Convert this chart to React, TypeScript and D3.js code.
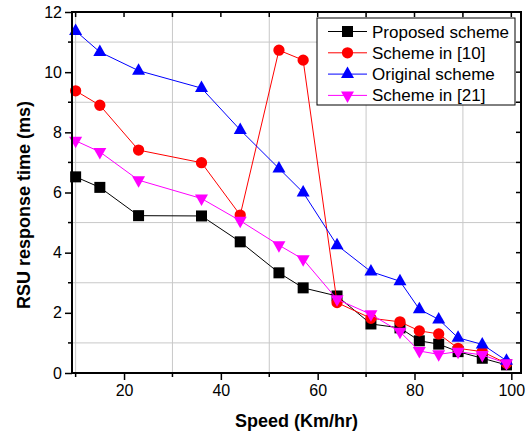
import React, { useEffect, useRef } from 'react';
import * as d3 from 'd3';

// speeds (Km/hr)
const speeds = [10, 15, 23, 36, 44, 52, 57, 64, 71, 77, 81, 85, 89, 94, 99];

// response time (ms) per scheme
const proposed = [6.52, 6.17, 5.23, 5.22, 4.36, 3.33, 2.83, 2.56, 1.63, 1.5, 1.07, 0.96, 0.71, 0.49, 0.27];
const scheme10 = [9.38, 8.9, 7.41, 6.99, 5.25, 10.73, 10.4, 2.34, 1.82, 1.7, 1.4, 1.3, 0.82, 0.71, 0.32];
const original = [11.37, 10.67, 10.05, 9.47, 8.08, 6.8, 6.0, 4.25, 3.37, 3.05, 2.12, 1.78, 1.17, 0.95, 0.41];
const scheme21 = [7.72, 7.35, 6.41, 5.8, 5.06, 4.25, 3.78, 2.45, 1.95, 1.37, 0.73, 0.62, 0.71, 0.6, 0.32];

const seriesNames = ['Proposed scheme', 'Scheme in [10]', 'Original scheme', 'Scheme in [21]'];
const seriesColors = ['#000000', '#ff0000', '#0000ff', '#ff00ff'];
const seriesShapes = ['square', 'circle', 'up', 'down'];

const xTicks = [20, 40, 60, 80, 100];
const xMinor = [10, 30, 50, 70, 90];
const yTicks = [0, 2, 4, 6, 8, 10, 12];
const yMinor = [1, 3, 5, 7, 9, 11];

const FONT = 'Arial, "Liberation Sans", sans-serif';

const App = () => {
  const svgRef = useRef<SVGSVGElement>(null);

  useEffect(() => {
    const W = 530;
    const H = 434;
    const margin = { top: 12, right: 9, bottom: 61, left: 72 };
    const width = W - margin.left - margin.right;
    const height = H - margin.top - margin.bottom;

    const root = d3.select(svgRef.current);
    root.selectAll('*').remove();
    root.attr('width', W).attr('height', H);

    const svg = root.append('g').attr('transform', `translate(${margin.left}, ${margin.top})`);

    const x = d3.scaleLinear().domain([9.25, 102]).range([0, width]);
    const y = d3.scaleLinear().domain([0, 12]).range([height, 0]);

    // grid (Origin draws it on the minor ticks)
    svg
      .selectAll('.vgrid')
      .data(xMinor)
      .enter()
      .append('line')
      .attr('x1', d => x(d))
      .attr('x2', d => x(d))
      .attr('y1', 0)
      .attr('y2', height)
      .attr('stroke', '#c8c8c8')
      .attr('stroke-width', 1);

    svg
      .selectAll('.hgrid')
      .data(yMinor)
      .enter()
      .append('line')
      .attr('x1', 0)
      .attr('x2', width)
      .attr('y1', d => y(d))
      .attr('y2', d => y(d))
      .attr('stroke', '#c8c8c8')
      .attr('stroke-width', 1);

    // data series
    const all = [proposed, scheme10, original, scheme21];
    const line = d3
      .line<number>()
      .x((_, i) => x(speeds[i]))
      .y(d => y(d));

    const shapePath = (shape: string) => {
      if (shape === 'square') return 'M-5.5,-5.5H5.5V5.5H-5.5Z';
      if (shape === 'up') return 'M0,-7.5L6.5,4L-6.5,4Z';
      if (shape === 'down') return 'M0,7.5L6.5,-4L-6.5,-4Z';
      return d3.symbol(d3.symbolCircle, 100)() as string;
    };

    all.forEach((vals, s) => {
      svg
        .append('path')
        .attr('d', line(vals))
        .attr('fill', 'none')
        .attr('stroke', seriesColors[s])
        .attr('stroke-width', 1);

      svg
        .selectAll(`.m${s}`)
        .data(vals)
        .enter()
        .append('path')
        .attr('transform', (d, i) => `translate(${x(speeds[i])}, ${y(d)})`)
        .attr('d', shapePath(seriesShapes[s]))
        .attr('fill', seriesColors[s]);
    });

    // frame
    svg
      .append('rect')
      .attr('x', 0)
      .attr('y', 0)
      .attr('width', width)
      .attr('height', height)
      .attr('fill', 'none')
      .attr('stroke', '#000')
      .attr('stroke-width', 2);

    // bottom axis
    const bottom = svg.append('g').attr('transform', `translate(0, ${height})`);
    bottom
      .call(d3.axisBottom(x).tickValues(xTicks).tickSize(7).tickSizeOuter(0))
      .call(g => g.select('.domain').remove());
    bottom.selectAll('line').attr('stroke-width', 1.5);
    bottom
      .selectAll('text')
      .attr('y', 12)
      .style('font-family', FONT)
      .style('font-size', '16px')
      .attr('fill', '#000');
    bottom
      .selectAll('.minor')
      .data(xMinor)
      .enter()
      .append('line')
      .attr('x1', d => x(d))
      .attr('x2', d => x(d))
      .attr('y1', 0)
      .attr('y2', 4)
      .attr('stroke', '#000')
      .attr('stroke-width', 1.5);

    // left axis
    const left = svg.append('g');
    left
      .call(d3.axisLeft(y).tickValues(yTicks).tickSize(7).tickSizeOuter(0))
      .call(g => g.select('.domain').remove());
    left.selectAll('line').attr('stroke-width', 1.5);
    left
      .selectAll('text')
      .attr('x', -10)
      .style('font-family', FONT)
      .style('font-size', '16px')
      .attr('fill', '#000');
    left
      .selectAll('.minor')
      .data(yMinor)
      .enter()
      .append('line')
      .attr('x1', -4)
      .attr('x2', 0)
      .attr('y1', d => y(d))
      .attr('y2', d => y(d))
      .attr('stroke', '#000')
      .attr('stroke-width', 1.5);

    // top ticks (inward)
    svg
      .selectAll('.topTick')
      .data([...xTicks, ...xMinor])
      .enter()
      .append('line')
      .attr('x1', d => x(d))
      .attr('x2', d => x(d))
      .attr('y1', 0)
      .attr('y2', 5)
      .attr('stroke', '#000')
      .attr('stroke-width', 1.5);

    // right ticks (inward)
    svg
      .selectAll('.rightTick')
      .data([...yTicks, ...yMinor])
      .enter()
      .append('line')
      .attr('x1', width - 5)
      .attr('x2', width)
      .attr('y1', d => y(d))
      .attr('y2', d => y(d))
      .attr('stroke', '#000')
      .attr('stroke-width', 1.5);

    // axis titles
    svg
      .append('text')
      .attr('x', width / 2)
      .attr('y', height + 54)
      .attr('text-anchor', 'middle')
      .style('font-family', FONT)
      .style('font-size', '18px')
      .style('font-weight', 'bold')
      .text('Speed (Km/hr)');

    svg
      .append('text')
      .attr('transform', 'rotate(-90)')
      .attr('x', -193)
      .attr('y', -42)
      .attr('text-anchor', 'middle')
      .style('font-family', FONT)
      .style('font-size', '18px')
      .style('font-weight', 'bold')
      .text('RSU response time (ms)');

    // legend
    const lx = 317 - margin.left;
    const ly = 18 - margin.top;
    svg
      .append('rect')
      .attr('x', lx)
      .attr('y', ly)
      .attr('width', 198)
      .attr('height', 87)
      .attr('fill', '#fff')
      .attr('stroke', '#000')
      .attr('stroke-width', 1);

    const legend = svg
      .selectAll('.legend')
      .data(seriesNames)
      .enter()
      .append('g')
      .attr('transform', (_, i) => `translate(${lx}, ${ly + 13.5 + i * 21.3})`);

    legend
      .append('line')
      .attr('x1', 11)
      .attr('x2', 50)
      .attr('y1', 0)
      .attr('y2', 0)
      .attr('stroke', (_, i) => seriesColors[i])
      .attr('stroke-width', 1);

    legend
      .append('path')
      .attr('transform', 'translate(30.5, 0)')
      .attr('d', (_, i) => shapePath(seriesShapes[i]))
      .attr('fill', (_, i) => seriesColors[i]);

    legend
      .append('text')
      .attr('x', 55)
      .attr('y', 6)
      .style('font-family', FONT)
      .style('font-size', '17px')
      .text(d => d);
  }, []);

  return <svg ref={svgRef} style={{ position: 'absolute', left: 0, top: 0 }}></svg>;
};

export default App;
